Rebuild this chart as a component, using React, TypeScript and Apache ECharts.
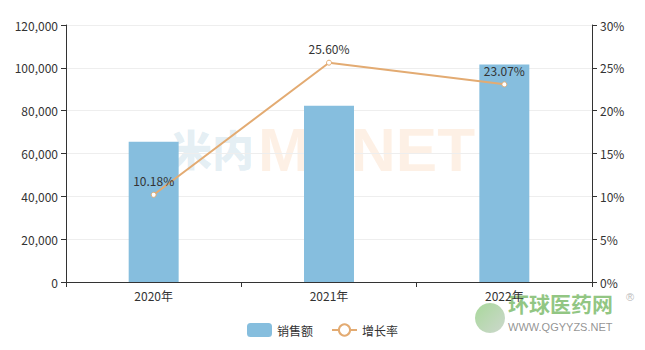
import React, { useEffect, useRef } from "react";
import * as echarts from "echarts";

const categories = ["2020年", "2021年", "2022年"];
const salesValues = [65500, 82300, 101500];
const growthValues = [10.18, 25.6, 23.07];
const leftTicks = [0, 20000, 40000, 60000, 80000, 100000, 120000];
const rightTicks = [0, 5, 10, 15, 20, 25, 30];

export default function App() {
  const ref = useRef<HTMLDivElement>(null);
  useEffect(() => {
    if (!ref.current) return;
    const chart = echarts.init(ref.current, null, { renderer: "svg" });
    const font = "'Microsoft YaHei', 'Noto Sans CJK SC', sans-serif";
    chart.setOption({
      animation: false,
      textStyle: { fontFamily: font },
      grid: { left: 66, right: 53, top: 25, bottom: 68 },
      legend: {
        bottom: 8,
        left: "center",
        itemGap: 18,
        itemWidth: 25,
        itemHeight: 14,
        textStyle: { color: "#333", fontSize: 12, fontFamily: font },
        data: [{ name: "销售额" }, { name: "增长率" }],
      },
      graphic: [
        {
          type: "text",
          left: 170,
          top: 126,
          z: -10,
          style: { text: "米内", fill: "rgba(120,170,200,0.2)", font: `900 42px ${font}` },
        },
        {
          type: "text",
          left: 258,
          top: 118,
          z: -10,
          style: { text: "MENET", fill: "rgba(245,170,110,0.18)", font: "bold 62px Arial, 'Liberation Sans', sans-serif" },
        },
        {
          type: "circle",
          shape: { cx: 490, cy: 318, r: 15 },
          style: {
            fill: new echarts.graphic.LinearGradient(0, 0, 1, 1, [
              { offset: 0, color: "rgba(130,200,110,0.7)" },
              { offset: 1, color: "rgba(170,190,170,0.6)" },
            ]),
          },
        },
        {
          type: "text",
          left: 508,
          top: 292,
          style: { text: "环球医药网", fill: "rgba(110,180,90,0.75)", font: `bold 21px ${font}` },
        },
        {
          type: "text",
          left: 626,
          top: 291,
          style: { text: "®", fill: "#bbb", font: "11px sans-serif" },
        },
        {
          type: "text",
          left: 508,
          top: 321,
          style: { text: "WWW.QGYYZS.NET", fill: "rgba(120,120,120,0.8)", font: "11px Arial, 'Liberation Sans', sans-serif" },
        },
      ],
      xAxis: {
        type: "category",
        data: categories,
        axisLine: { lineStyle: { color: "#333" } },
        axisTick: { show: true, lineStyle: { color: "#333" } },
        axisLabel: { color: "#333", fontSize: 12, margin: 7 },
      },
      yAxis: [
        {
          type: "value",
          min: 0,
          max: 120000,
          interval: 20000,
          axisLine: { show: true, lineStyle: { color: "#333" } },
          axisTick: { show: true, lineStyle: { color: "#333" } },
          axisLabel: {
            color: "#333",
            fontSize: 12,
            formatter: (v: number) => (leftTicks.includes(v) ? v.toLocaleString("en-US") : ""),
          },
          splitLine: { lineStyle: { color: "#eee" } },
        },
        {
          type: "value",
          min: 0,
          max: 30,
          interval: 5,
          axisLine: { show: true, lineStyle: { color: "#333" } },
          axisTick: { show: true, lineStyle: { color: "#333" } },
          axisLabel: {
            color: "#333",
            fontSize: 12,
            formatter: (v: number) => (rightTicks.includes(v) ? v + "%" : ""),
          },
          splitLine: { show: false },
        },
      ],
      series: [
        {
          name: "销售额",
          type: "bar",
          data: salesValues,
          barWidth: "28.5%",
          itemStyle: { color: "#86bede" },
        },
        {
          name: "增长率",
          type: "line",
          yAxisIndex: 1,
          data: growthValues,
          symbol: "circle",
          symbolSize: 5,
          lineStyle: { color: "#e3ab72", width: 2 },
          itemStyle: { color: "#fff", borderColor: "#e3ab72", borderWidth: 1 },
          label: {
            show: true,
            position: "top",
            color: "#333",
            fontSize: 12,
            formatter: (p: any) => p.value.toFixed(2) + "%",
          },
        },
      ],
    });
    return () => chart.dispose();
  }, []);
  return <div ref={ref} style={{ width: 645, height: 350, margin: -8 }} />;
}
